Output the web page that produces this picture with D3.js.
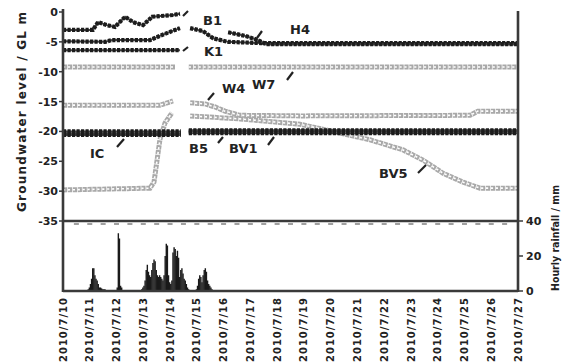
<!DOCTYPE html>
<html>
<head>
<meta charset="utf-8">
<script src="https://cdn.jsdelivr.net/npm/d3@7"></script>
<style>
  body { margin: 0; background: #fff; }
  svg { display: block; }
  text { font-family: "DejaVu Sans", sans-serif; font-weight: bold; fill: #222; }
</style>
</head>
<body>
<div id="chart"></div>
<script>
const width = 567;
const height = 363;

// x axis labels, one per day
const dateLabels = ["2010/7/10", "2010/7/11", "2010/7/12", "2010/7/13", "2010/7/14", "2010/7/15",
  "2010/7/16", "2010/7/17", "2010/7/18", "2010/7/19", "2010/7/20", "2010/7/21",
  "2010/7/22", "2010/7/23", "2010/7/24", "2010/7/25", "2010/7/26", "2010/7/27"];

const levelTicks = [0, -5, -10, -15, -20, -25, -30, -35];
const rainTicks = [0, 20, 40];

// groundwater level: [days since 7/10 0:00, level m], null = missing record
const B1 = [[0, -3.0], [1.12, -3.0], [1.31, -1.7], [1.64, -2.2], [1.94, -2.5], [2.32, -0.8], [2.62, -1.7],
  [2.99, -2.2], [3.33, -0.8], [4.11, -0.5], [4.37, -0.3], null,
  [4.75, -2.7], [5.23, -3.2], [5.61, -4.4], [6.17, -5.0], [7.36, -5.2], [17, -5.2]];
const H4 = [[0, -4.9], [1.57, -5.0], [1.83, -4.7], [3.25, -4.7], [3.62, -4.0], [4.07, -3.2], [4.37, -2.7], null,
  [6.17, -3.4], [6.80, -4.0], [7.29, -4.7], [7.59, -5.4], [17, -5.4]];
const K1 = [[0, -6.4], [4.37, -6.4]];
const W7 = [[0, -9.2], [4.2, -9.2], null, [4.7, -9.2], [17, -9.2]];
const W4 = [[0, -15.6], [3.62, -15.6], [4.11, -14.9], null,
  [4.75, -15.2], [5.31, -15.4], [5.68, -15.9], [6.05, -16.6], [6.61, -17.3], [8.86, -17.4],
  [15.21, -17.3], [15.5, -16.6], [17, -16.6]];
const BV5 = [[0, -29.8], [3.25, -29.5], [3.40, -28.5], [3.62, -21.4], [3.81, -18.6], [4.07, -16.9], null,
  [4.75, -17.4], [6.61, -17.9], [8.86, -18.8], [9.98, -19.9], [11.47, -21.4], [12.71, -23.1],
  [13.45, -24.8], [14.2, -27.0], [14.95, -28.5], [15.58, -29.5], [17, -29.5]];
const IC = [[0, -20.6], [4.4, -20.6], null, [4.7, -20.3], [17, -20.3]];
const B5 = [[0, -20.3], [4.4, -20.3], null, [4.7, -20.0], [17, -20.0]];
const BV1 = [[0, -20.0], [4.4, -20.0], null, [4.7, -19.8], [17, -19.8]];

// hourly rainfall: hours since 7/10 0:00, mm
const rainHour = [22, 23, 24, 25, 26, 27, 28, 29, 30, 31, 32, 33, 34, 35, 36, 37, 38, 39,
  48, 49, 50, 51, 52,
  70, 71, 72, 73, 74, 75, 76, 77, 78, 79, 80, 81, 82, 83, 84, 85, 86, 87, 88, 89, 90,
  91, 92, 93, 94, 95, 96, 97, 98, 99, 100, 101, 102, 103, 104, 105, 106, 107, 108, 109, 110, 111, 112,
  119, 120, 121, 122, 123, 124, 125, 126, 127, 128, 129, 130, 131, 132, 133];
const rainMm = [1, 2, 4, 7, 13, 13, 9, 7, 6, 4, 2, 2, 1.5, 1, 1, 1, 0.5, 0.5,
  2, 33, 30, 3, 2,
  1, 2, 3, 6, 12, 15, 11, 9, 8, 12, 16, 18, 17, 12, 9, 8, 9, 8, 7, 6, 9,
  20, 27, 26, 9, 5, 4, 6, 22, 25, 24, 20, 23, 19, 8, 12, 13, 10, 7, 6, 4, 2, 1,
  1, 3, 7, 9, 8, 5, 9, 12, 13, 11, 6, 4, 3, 2, 1];

const svg = d3.select("#chart")
  .append("svg")
  .attr("width", width)
  .attr("height", height);

svg.append("rect").attr("width", width).attr("height", height).attr("fill", "#fff");

const x = d3.scaleLinear().domain([0, 17]).range([63, 518]);
const y = d3.scaleLinear().domain([0, -35]).range([12, 221]);
const yRain = d3.scaleLinear().domain([0, 40]).range([291, 221]);

// rainfall bars
svg.selectAll("rect.rain")
  .data(rainHour.map((h, i) => ({ h: h, mm: rainMm[i] })))
  .enter()
  .append("rect")
  .attr("class", "rain")
  .attr("x", d => x(d.h / 24))
  .attr("y", d => yRain(d.mm))
  .attr("width", 1.4)
  .attr("height", d => yRain(0) - yRain(d.mm))
  .attr("fill", "#1a1a1a");

const line = d3.line()
  .defined(d => d)
  .x(d => x(d[0]))
  .y(d => y(d[1]));

// gray series with hollow markers
function grayLine(data) {
  svg.append("path").attr("d", line(data)).attr("fill", "none")
    .attr("stroke", "#a9a9a9").attr("stroke-width", 5).attr("stroke-dasharray", "4.2,0.7");
  svg.append("path").attr("d", line(data)).attr("fill", "none")
    .attr("stroke", "#fff").attr("stroke-width", 1.6).attr("stroke-dasharray", "2.2,2.7");
}

// black series with filled markers
function blackLine(data) {
  svg.append("path").attr("d", line(data)).attr("fill", "none")
    .attr("stroke", "#444").attr("stroke-width", 2);
  svg.append("path").attr("d", line(data)).attr("fill", "none")
    .attr("stroke", "#1c1c1c").attr("stroke-width", 4.2).attr("stroke-dasharray", "3.2,1.3");
}

[W7, W4, BV5].forEach(grayLine);
[B1, H4, K1, IC, B5, BV1].forEach(blackLine);

// frame
const axisColor = "#3a3a3a";
svg.append("line").attr("x1", 63).attr("x2", 63).attr("y1", 9).attr("y2", 292)
  .attr("stroke", axisColor).attr("stroke-width", 2.6);
svg.append("line").attr("x1", 518).attr("x2", 518).attr("y1", 11).attr("y2", 292)
  .attr("stroke", axisColor).attr("stroke-width", 2.6);
svg.append("line").attr("x1", 63).attr("x2", 518).attr("y1", y(-35)).attr("y2", y(-35))
  .attr("stroke", axisColor).attr("stroke-width", 2.4);
svg.append("line").attr("x1", 63).attr("x2", 518).attr("y1", yRain(0)).attr("y2", yRain(0))
  .attr("stroke", axisColor).attr("stroke-width", 2.4);

// half-day marks under the -35 line
svg.selectAll("line.half")
  .data(d3.range(0.5, 17, 0.5))
  .enter()
  .append("line")
  .attr("class", "half")
  .attr("x1", d => x(d) - 2.5).attr("x2", d => x(d) + 2.5)
  .attr("y1", y(-35) + 3).attr("y2", y(-35) + 3)
  .attr("stroke", "#777").attr("stroke-width", 1.4);

// left axis ticks
svg.selectAll("text.ly")
  .data(levelTicks)
  .enter()
  .append("text")
  .attr("class", "ly")
  .attr("x", 58)
  .attr("y", d => y(d))
  .attr("dy", "0.36em")
  .attr("text-anchor", "end")
  .style("font-size", "11px")
  .text(d => d);
svg.selectAll("line.lt")
  .data(levelTicks)
  .enter()
  .append("line")
  .attr("class", "lt")
  .attr("x1", 59).attr("x2", 63)
  .attr("y1", d => y(d)).attr("y2", d => y(d))
  .attr("stroke", axisColor).attr("stroke-width", 1.5);

// right axis ticks
svg.selectAll("text.ry")
  .data(rainTicks)
  .enter()
  .append("text")
  .attr("class", "ry")
  .attr("x", 526)
  .attr("y", d => yRain(d))
  .attr("dy", "0.36em")
  .style("font-size", "11px")
  .text(d => d);
svg.selectAll("line.rt")
  .data(rainTicks)
  .enter()
  .append("line")
  .attr("class", "rt")
  .attr("x1", 518).attr("x2", 523)
  .attr("y1", d => yRain(d)).attr("y2", d => yRain(d))
  .attr("stroke", axisColor).attr("stroke-width", 1.5);

// x labels, rotated
svg.selectAll("text.xl")
  .data(dateLabels)
  .enter()
  .append("text")
  .attr("class", "xl")
  .attr("transform", (d, i) => `translate(${x(i)},297) rotate(-90)`)
  .attr("dy", "0.36em")
  .attr("text-anchor", "end")
  .style("font-size", "10px")
  .style("letter-spacing", "1px")
  .text(d => d);

// axis titles
svg.append("text")
  .attr("transform", "translate(22,112) rotate(-90)")
  .attr("dy", "0.36em")
  .attr("text-anchor", "middle")
  .attr("textLength", 200)
  .attr("lengthAdjust", "spacing")
  .style("font-size", "12px")
  .text("Groundwater level / GL m");
svg.append("text")
  .attr("transform", "translate(555,238) rotate(-90)")
  .attr("dy", "0.36em")
  .attr("text-anchor", "middle")
  .attr("textLength", 106)
  .attr("lengthAdjust", "spacingAndGlyphs")
  .style("font-size", "10px")
  .text("Hourly rainfall / mm");

// series labels with short leaders
const notes = [
  { t: "B1", tx: 203, ty: 25, l: [183, 16, 188, 11] },
  { t: "H4", tx: 290, ty: 34, l: [257, 38, 262, 31] },
  { t: "K1", tx: 204, ty: 56, l: [183, 51, 188, 47] },
  { t: "W7", tx: 252, ty: 89, l: [287, 80, 293, 72] },
  { t: "W4", tx: 222, ty: 93, l: [208, 100, 214, 93] },
  { t: "IC", tx: 90, ty: 158, l: [117, 147, 124, 139] },
  { t: "B5", tx: 189, ty: 153, l: [218, 143, 223, 137] },
  { t: "BV1", tx: 229, ty: 153, l: [268, 145, 274, 137] },
  { t: "BV5", tx: 379, ty: 178, l: [418, 173, 426, 165] }
];
notes.forEach(n => {
  svg.append("text").attr("x", n.tx).attr("y", n.ty).style("font-size", "13px").text(n.t);
  svg.append("line")
    .attr("x1", n.l[0]).attr("y1", n.l[1]).attr("x2", n.l[2]).attr("y2", n.l[3])
    .attr("stroke", "#222").attr("stroke-width", 2.2);
});
</script>
</body>
</html>
